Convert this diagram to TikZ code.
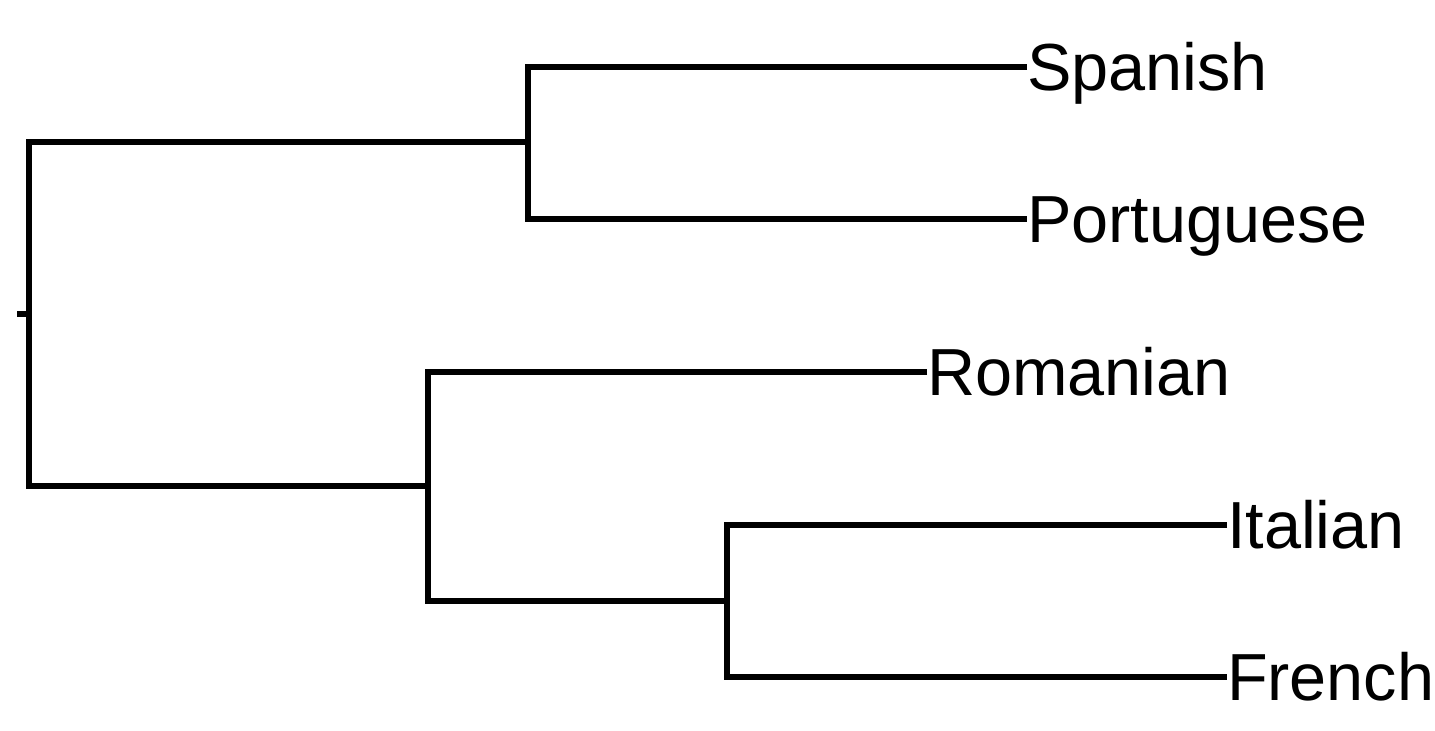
\documentclass[tikz,border=0pt]{standalone}
\usepackage{fontspec}
\setmainfont{Liberation Sans}
\begin{document}
\begin{tikzpicture}[x=0.5pt,y=-0.5pt,
  branch/.style={line width=3pt, line join=miter, line cap=rect, draw=black},
  leaf/.style={anchor=west, inner sep=0pt, outer sep=0pt, text height=23.8pt, text depth=0pt,
    font=\fontsize{33.3}{40}\selectfont}]
\useasboundingbox (0,0) rectangle (1435,731);
% internal nodes
\coordinate (root) at (29,314.5);
\coordinate (tick) at (17,314.5);
\coordinate (a) at (528,142.5);
\coordinate (b) at (428,486.5);
\coordinate (c) at (727,601);
% leaves
\node[leaf] (sp) at (1027,67) {Spanish};
\node[leaf] (pt) at (1027,219) {Portuguese};
\node[leaf] (ro) at (927,372) {Romanian};
\node[leaf] (it) at (1227,525) {Italian};
\node[leaf] (fr) at (1227,677) {French};
% connectors
\draw[branch, line cap=butt] (tick) -- (root);
\draw[branch] (a) -- (a -| root) -- (b -| root) -- (b);
\draw[branch, line cap=butt] (sp.west) -- (sp.west -| a) -- (pt.west -| a) -- (pt.west);
\draw[branch, line cap=butt] (ro.west) -- (ro.west -| b) -- (c -| b) -- (c);
\draw[branch, line cap=butt] (it.west) -- (it.west -| c) -- (fr.west -| c) -- (fr.west);
\end{tikzpicture}
\end{document}
